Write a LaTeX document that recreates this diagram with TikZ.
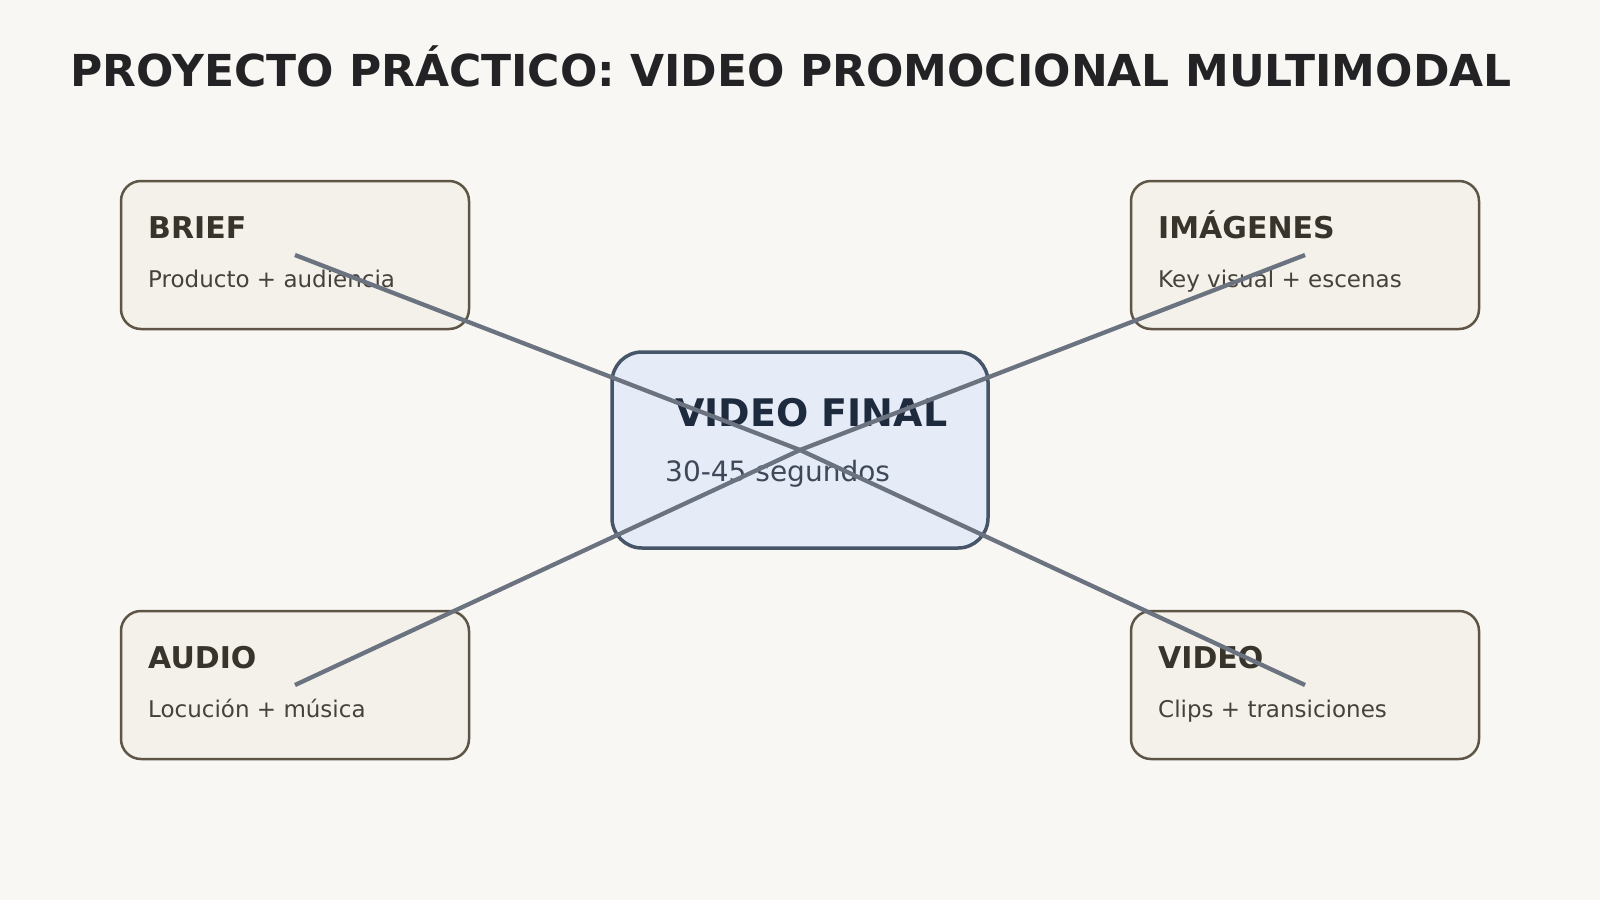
\documentclass[tikz,border=0pt]{standalone}
\usepackage{fontspec}
\setmainfont{DejaVu Sans}
\definecolor{bgc}{HTML}{F8F7F4}
\definecolor{boxfill}{HTML}{F3F1E9}
\definecolor{boxline}{HTML}{5E5547}
\definecolor{cfill}{HTML}{E5ECF7}
\definecolor{cline}{HTML}{475569}
\definecolor{linkc}{HTML}{6B7280}
\definecolor{titlec}{HTML}{232326}
\definecolor{headc}{HTML}{38332B}
\definecolor{subc}{HTML}{46423B}
\definecolor{cheadc}{HTML}{1E2A3D}
\definecolor{csubc}{HTML}{3F4859}
\tikzset{
  outerbox/.style={draw=boxline, fill=boxfill, line width=2.5pt, rounded corners=20pt,
    minimum width=348pt, minimum height=148pt, inner sep=0pt},
  centerbox/.style={draw=cline, fill=cfill, line width=3.5pt, rounded corners=30pt,
    minimum width=376pt, minimum height=196pt, inner sep=0pt},
  head/.style={anchor=base west, inner sep=0pt, text=headc, font=\fontsize{30}{30}\selectfont\bfseries},
  sub/.style={anchor=base west, inner sep=0pt, text=subc, font=\fontsize{23}{23}\selectfont},
  link/.style={draw=linkc, line width=4.3pt}
}
\begin{document}
\begin{tikzpicture}[x=1pt,y=-1pt]
\fill[bgc] (0,0) rectangle (1600,900);
\useasboundingbox (0,0) rectangle (1600,900);
\node[anchor=base west, inner sep=0pt, text=titlec, font=\fontsize{44}{44}\selectfont\bfseries] (title) at (70,86) {PROYECTO PRÁCTICO: VIDEO PROMOCIONAL MULTIMODAL};
% boxes
\node[outerbox] (brief) at (295,255) {};
\node[outerbox] (img) at (1305,255) {};
\node[outerbox] (audio) at (295,685) {};
\node[outerbox] (video) at (1305,685) {};
\node[centerbox] (final) at (800,450) {};
% texts
\node[head] (briefh) at (148,238) {BRIEF};
\node[sub] (briefs) at (148,287) {Producto + audiencia};
\node[head] (imgh) at (1158,238) {IMÁGENES};
\node[sub] (imgs) at (1158,287) {Key visual + escenas};
\node[head] (audioh) at (148,668) {AUDIO};
\node[sub] (audios) at (148,717) {Locución + música};
\node[head] (videoh) at (1158,668) {VIDEO};
\node[sub] (videos) at (1158,717) {Clips + transiciones};
\node[anchor=base west, inner sep=0pt, text=cheadc, font=\fontsize{38}{38}\selectfont\bfseries] (finalh) at (675,426) {VIDEO FINAL};
\node[anchor=base west, inner sep=0pt, text=csubc, font=\fontsize{28}{28}\selectfont] (finals) at (665,481) {30-45 segundos};
% connectors
\draw[link] (brief.center) -- (final.center);
\draw[link] (img.center) -- (final.center);
\draw[link] (final.center) -- (audio.center);
\draw[link] (final.center) -- (video.center);
\end{tikzpicture}
\end{document}
